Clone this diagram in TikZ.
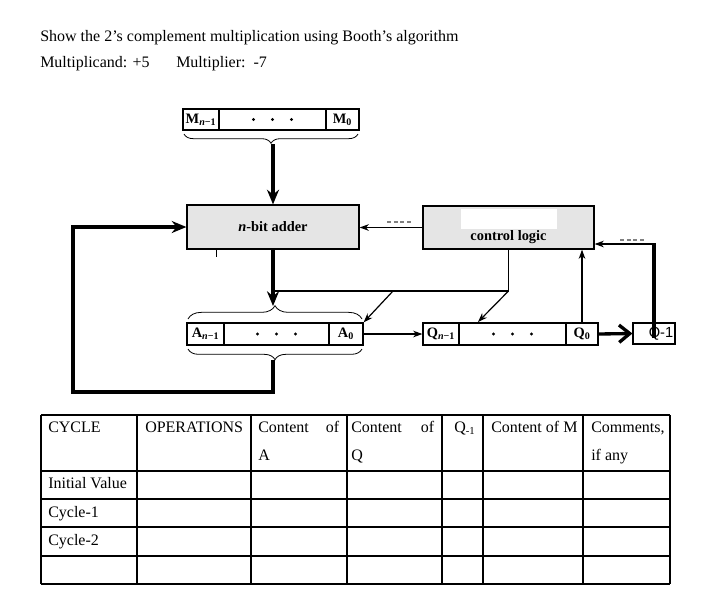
\documentclass[tikz,border=0pt]{standalone}
\usepackage{fontspec}
\setmainfont{Liberation Serif}
\setsansfont{Liberation Sans}
\usetikzlibrary{arrows.meta,decorations.pathreplacing,fit,calc}
\begin{document}
\begin{tikzpicture}[x=0.75pt,y=-0.75pt,
  txt/.style={inner sep=0pt, anchor=base west, font=\fontsize{12}{14}\selectfont},
  cell/.style={draw, line width=0.9pt, inner sep=0pt},
  lab/.style={inner sep=0pt, font=\bfseries\fontsize{10.8}{12}\selectfont},
  unit/.style={draw, fill=gray!20, line width=0.9pt, inner sep=0pt},
  thinline/.style={line width=0.9pt},
  thinarr/.style={line width=0.9pt, -{Stealth[length=7pt,width=5pt]}},
  thickarr/.style={line width=3pt, -{Stealth[length=11pt,width=9pt]}},
  thickline/.style={line width=3pt, line join=miter},
  bracedeco/.style={line width=0.6pt, decorate},
  dotmark/.style={fill=black},
  tbl/.style={line width=0.8pt},
  dashmark/.style={line width=0.8pt, gray, dash pattern=on 3pt off 2pt}
]
\useasboundingbox (0,0) rectangle (710,608);

% heading
\node[txt] (t1) at (40,41) {Show the 2’s complement multiplication using Booth’s algorithm};
\node[txt] (t2) at (40,67) {Multiplicand: +5};
\node[txt] (t3) at (176,67) {Multiplier:~~-7};

% M register
\node[cell, fit={(183,109) (219,130)}] (Mn) {};
\node[cell, fit={(219,109) (326,130)}] (Md) {};
\node[cell, fit={(326,109) (359,130)}] (M0) {};
\node[lab] (Mnl) at (Mn.center) {M\textsubscript{\textit{n}−1}};
\node[lab] (M0l) at (M0.center) {M\textsubscript{0}};
\foreach \d in {-19,0,19} \fill[dotmark] ($(Md.center)+(\d,0)$) circle[radius=1.2pt];
\draw[bracedeco, decoration={brace,mirror,amplitude=7pt}] (184,134) -- (358,134);
\coordinate (mbt) at (273,144);

% adder and control logic
\node[unit, fit={(187,205) (359,249)}] (adder) {};
\node[lab] (adderl) at (adder.center) {\textit{n}-bit adder};
\node[unit, fit={(423,206) (594,249)}] (ctrl) {};
\fill[white] (461,209) rectangle (557,229);
\node[lab] (ctrltext) at (508.5,237) {control logic};
\draw[thinline] ($(adder.south west)+(30,0)$) -- +(0,7);

% A register
\node[cell, fit={(187,323) (224,345)}] (An) {};
\node[cell, fit={(224,323) (329,345)}] (Ad) {};
\node[cell, fit={(329,323) (363,345)}] (A0) {};
\node[lab] (Anl) at (An.center) {A\textsubscript{\textit{n}−1}};
\node[lab] (A0l) at (A0.center) {A\textsubscript{0}};
\foreach \d in {-19,0,19} \fill[dotmark] ($(Ad.center)+(\d,0)$) circle[radius=1.2pt];
\draw[bracedeco, decoration={brace,amplitude=10pt}] (188,319) -- (362,319);
\draw[bracedeco, decoration={brace,mirror,amplitude=8pt}] (188,349) -- (362,349);
\coordinate (atop) at (273,306);
\coordinate (abot) at (273,360);
\coordinate (fbL) at (73,392);

% Q register
\node[cell, fit={(423,323) (459,345)}] (Qn) {};
\node[cell, fit={(459,323) (566,345)}] (Qd) {};
\node[cell, fit={(566,323) (598,345)}] (Q0) {};
\node[lab] (Qnl) at (Qn.center) {Q\textsubscript{\textit{n}−1}};
\node[lab] (Q0l) at (Q0.center) {Q\textsubscript{0}};
\foreach \d in {-19,0,19} \fill[dotmark] ($(Qd.center)+(\d,0)$) circle[radius=1.2pt];
\node[cell, fit={(633,323) (675,344)}] (Qm1) {};
\node[font=\sffamily\fontsize{11}{12}\selectfont, inner sep=0pt] (qm1lab) at (661,334) {Q-1};

% connectors
\draw[thickarr] (mbt) -- (adder.north);
\draw[thickarr] (adder.south) -- (atop);
\draw[thickline, -{Stealth[length=11pt,width=9pt]}] (abot) |- (fbL) |- (adder.west);
\draw[thinarr] (ctrl.west) -- (ctrl.west -| adder.east);
\draw[dashmark] (387,222) -- (412,222);
\coordinate (cj) at (508.5,291);
\coordinate (cjL) at (273,291);
\coordinate (cj2) at (393,291);
\coordinate (qtarget) at (478,322);
\draw[thinline] (ctrl.south) -- (cj) -- (cjL);
\draw[thinarr] (cj) -- (qtarget);
\draw[thinarr] (cj2) -- (A0.north east);
\draw[thinarr] (A0.east) -- (Qn.west);
\draw[thinarr] (Q0.north) -- (Q0.north |- ctrl.south);
\draw[line width=2.5pt, -{Straight Barb[length=8pt,width=13pt]}] (Q0.east) -- (Qm1.west);
\coordinate (qv) at (654,338);
\coordinate (qc) at (654,244);
\draw[line width=3pt] (qv) -- (qc);
\draw[thinarr] ($(qc)+(1.5,0)$) -- (qc -| ctrl.east);
\draw[dashmark] (620,240) -- (646,240);

% table
\foreach \y in {415,471,499,527,556,584} \draw[tbl] (41,\y) -- (670,\y);
\foreach \x in {41,137,251,347,442,483,583,670} \draw[tbl] (\x,415) -- (\x,584);
\node[txt] (h1) at (48,432) {CYCLE};
\node[txt] (h2) at (145,432) {OPERATIONS};
\node[txt] (h3) at (258,432) {\hbox to 60.75pt{Content\hfill of}};
\node[txt] (h3b) at (258,460) {A};
\node[txt] (h4) at (351,432) {\hbox to 62.25pt{Content\hfill of}};
\node[txt] (h4b) at (351,460) {Q};
\node[txt] (h5) at (454,432) {Q\textsubscript{-1}};
\node[txt] (h6) at (491,432) {Content of M};
\node[txt] (h7) at (591,432) {Comments,};
\node[txt] (h7b) at (591,460) {if any};
\node[txt] (r1) at (48,488) {Initial Value};
\node[txt] (r2) at (48,517) {Cycle-1};
\node[txt] (r3) at (48,545) {Cycle-2};
\end{tikzpicture}
\end{document}
